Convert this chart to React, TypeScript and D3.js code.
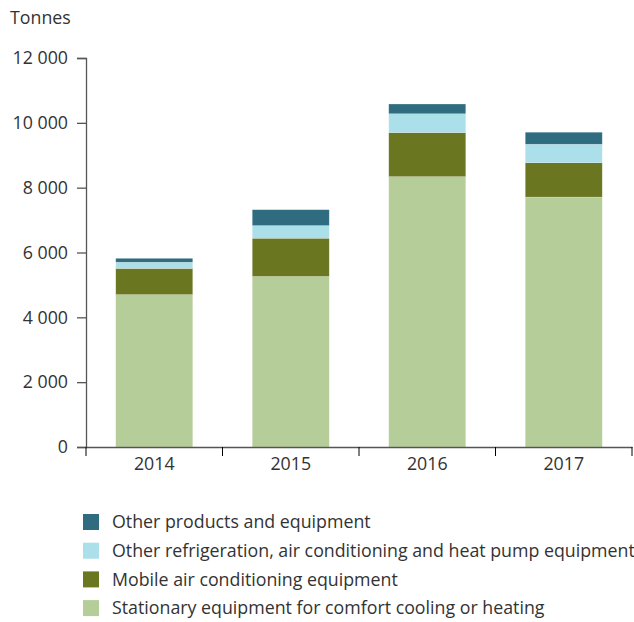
import { useRef, useEffect } from "react";
import * as d3 from "d3";

// data (tonnes)
const years = ["2014", "2015", "2016", "2017"];
const stationary = [4700, 5260, 8340, 7710];
const mobile = [810, 1180, 1360, 1060];
const otherRefrigeration = [190, 390, 580, 570];
const otherProducts = [120, 490, 300, 370];
const yTicks = [0, 2000, 4000, 6000, 8000, 10000, 12000];

const seriesNames = [
  "Stationary equipment for comfort cooling or heating",
  "Mobile air conditioning equipment",
  "Other refrigeration, air conditioning and heat pump equipment",
  "Other products and equipment",
];
const colors = ["#b5cd98", "#6b7621", "#abdfe9", "#2f6c80"];

const width = 634;
const height = 622;
const font = "'Open Sans', 'Noto Sans', sans-serif";
const fontSize = 17.8;

function drawChart(el: SVGSVGElement) {
  const svg = d3.select(el);
  svg.selectAll("*").remove();

  const table = years.map((year, i) => ({
    year,
    s0: stationary[i],
    s1: mobile[i],
    s2: otherRefrigeration[i],
    s3: otherProducts[i],
  }));
  const stack = d3.stack<any>().keys(["s0", "s1", "s2", "s3"]);
  const layers = stack(table);

  const x = d3.scaleBand().domain(years).range([86, 632]).paddingInner(0.436).paddingOuter(0.218);
  const y = d3.scaleLinear().domain([0, 12000]).range([447, 58]);

  const fmt = d3.formatLocale({ decimal: ",", thousands: " ", grouping: [3], currency: ["", ""] }).format(",");

  // bars
  svg.append("g")
    .selectAll("g")
    .data(layers)
    .join("g")
    .attr("fill", (_, i) => colors[i])
    .selectAll("rect")
    .data((d) => d)
    .join("rect")
    .attr("x", (d) => x(d.data.year)!)
    .attr("y", (d) => y(d[1]))
    .attr("width", x.bandwidth())
    .attr("height", (d) => y(d[0]) - y(d[1]))
    .attr("stroke", "#ffffff")
    .attr("stroke-opacity", 0.35)
    .attr("stroke-width", 0.6);

  // y axis
  const yAxis = svg.append("g")
    .attr("transform", "translate(86,0)")
    .call(d3.axisLeft(y).tickValues(yTicks).tickFormat((d) => fmt(d as number)).tickSizeOuter(0).tickSize(9).tickPadding(9));
  yAxis.selectAll("text").attr("font-size", fontSize).attr("font-family", font).attr("fill", "#333");

  // x axis
  const xAxis = svg.append("g")
    .attr("transform", "translate(0,447)")
    .call(d3.axisBottom(x).tickSize(0).tickPadding(10));
  xAxis.selectAll("text").attr("font-size", fontSize).attr("font-family", font).attr("fill", "#333");
  xAxis.append("g")
    .selectAll("line")
    .data(d3.range(years.length + 1))
    .join("line")
    .attr("x1", (i) => x.range()[0] + i * x.step())
    .attr("x2", (i) => x.range()[0] + i * x.step())
    .attr("y1", 0)
    .attr("y2", 9)
    .attr("stroke", "currentColor");

  svg.selectAll(".domain, .tick line").attr("stroke", "#555").attr("stroke-width", 1.3);

  svg.append("text")
    .attr("x", 10)
    .attr("y", 24)
    .attr("font-size", fontSize)
    .attr("font-family", font)
    .attr("fill", "#333")
    .text("Tonnes");

  // legend, top item is the top of the stack
  const legendOrder = [3, 2, 1, 0];
  const legend = svg.append("g")
    .selectAll("g")
    .data(legendOrder)
    .join("g")
    .attr("transform", (_, i) => `translate(83,${522 + i * 28.7})`);
  legend.append("rect")
    .attr("x", 0)
    .attr("y", -8)
    .attr("width", 16)
    .attr("height", 16)
    .attr("fill", (d) => colors[d]);
  legend.append("text")
    .attr("x", 29)
    .attr("y", 0)
    .attr("dy", "0.35em")
    .attr("font-size", fontSize)
    .attr("font-family", font)
    .attr("fill", "#333")
    .text((d) => seriesNames[d]);
}

export default function App() {
  const ref = useRef<SVGSVGElement>(null);

  useEffect(() => {
    if (ref.current) drawChart(ref.current);
  }, []);

  return (
    <svg
      ref={ref}
      width={width}
      height={height}
      style={{ position: "absolute", left: 0, top: 0, background: "#fff" }}
    />
  );
}
